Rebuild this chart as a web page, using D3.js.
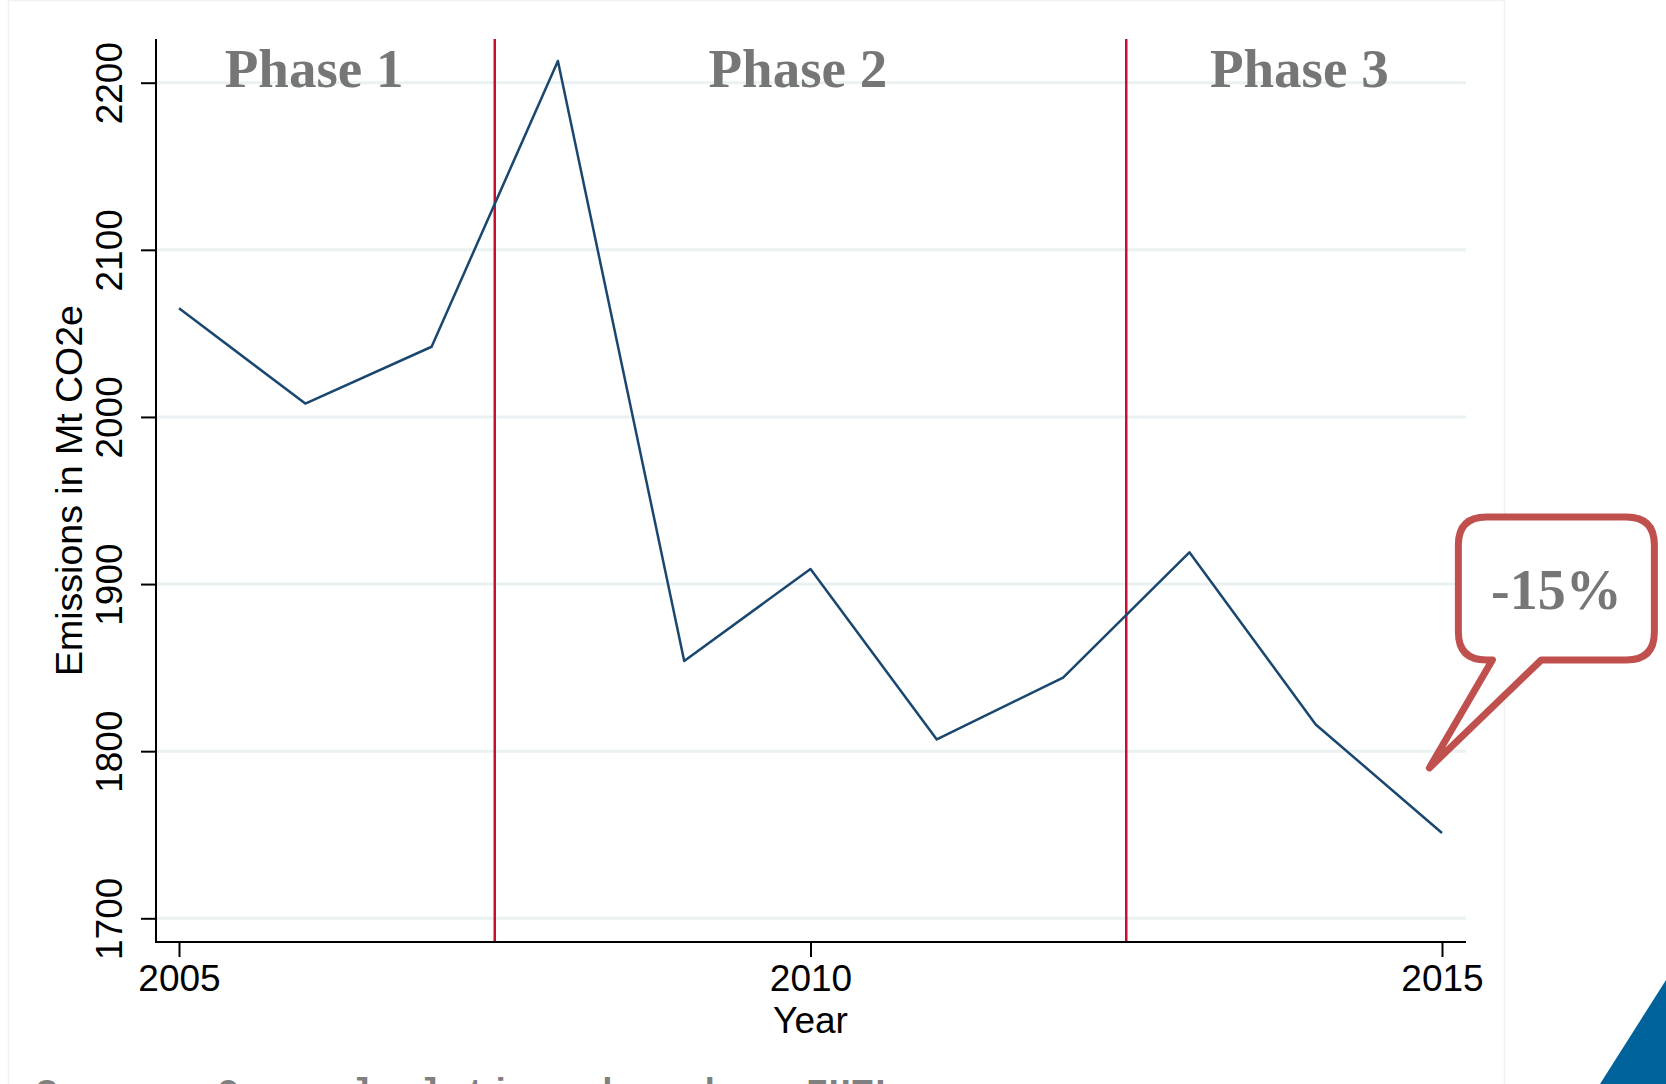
<!DOCTYPE html>
<html>
<head>
<meta charset="utf-8">
<script src="https://cdn.jsdelivr.net/npm/d3@7"></script>
<style>
  body { margin: 0; background: #fff; }
  svg { display: block; }
  .tick text { font-family: "Liberation Sans", Arial, sans-serif; fill: #000; }
</style>
</head>
<body>
<div id="chart"></div>
<script>
const years = [2005, 2006, 2007, 2008, 2009, 2010, 2011, 2012, 2013, 2014, 2015];
const emissions = [2065, 2008, 2042, 2213, 1854, 1909, 1807, 1844, 1919, 1816, 1751];
const yTicks = [1700, 1800, 1900, 2000, 2100, 2200];
const xTicks = [2005, 2010, 2015];
const phaseBreaks = [2007.5, 2012.5];
const phaseLabels = ['Phase 1', 'Phase 2', 'Phase 3'];
const phaseLabelYears = [2006.07, 2009.9, 2013.87];
const calloutText = '-15%';
const calloutTip = { year: 2014.9, value: 1790 };
const sourceText = 'Source: Own calculations based on EUTL';

const width = 1666, height = 1084;
const plot = { left: 156, right: 1466, top: 39, bottom: 942 };

const svg = d3.select('#chart').append('svg')
    .attr('width', width)
    .attr('height', height);

// slide background pieces
svg.append('rect')
    .attr('x', 8.5).attr('y', 0.5)
    .attr('width', 1496).attr('height', 1200)
    .attr('fill', 'none')
    .attr('stroke', '#eef2f2')
    .attr('stroke-width', 1.5);

svg.append('path')
    .attr('d', `M${width},980 L${width},${height} L1600,${height} Z`)
    .attr('fill', '#00629b');

const x = d3.scaleLinear().domain([2005, 2015]).range([179, 1442]);
const y = d3.scaleLinear().domain([1700, 2200]).range([918.3, 82.7]);

// grid
svg.append('g')
    .selectAll('line')
    .data(yTicks)
    .enter().append('line')
    .attr('x1', plot.left + 1).attr('x2', plot.right)
    .attr('y1', d => y(d)).attr('y2', d => y(d))
    .attr('stroke', '#eaf1f2')
    .attr('stroke-width', 3);

// phase separators
svg.append('g')
    .selectAll('line')
    .data(phaseBreaks)
    .enter().append('line')
    .attr('x1', d => x(d)).attr('x2', d => x(d))
    .attr('y1', plot.top).attr('y2', plot.bottom)
    .attr('stroke', '#c8102e')
    .attr('stroke-width', 2.5);

// phase labels
svg.append('g')
    .selectAll('text')
    .data(phaseLabels)
    .enter().append('text')
    .attr('x', (d, i) => x(phaseLabelYears[i]))
    .attr('y', 86.5)
    .attr('text-anchor', 'middle')
    .attr('font-family', '"Liberation Serif", "Times New Roman", serif')
    .attr('font-weight', 'bold')
    .attr('font-size', 55)
    .attr('fill', '#767676')
    .text(d => d);

// emissions line
const line = d3.line()
    .x((d, i) => x(years[i]))
    .y(d => y(d));

svg.append('path')
    .datum(emissions)
    .attr('d', line)
    .attr('fill', 'none')
    .attr('stroke', '#1a476f')
    .attr('stroke-width', 2.5)
    .attr('stroke-linejoin', 'round');

// axes
const xAxis = svg.append('g')
    .attr('transform', `translate(0,${plot.bottom})`)
    .call(d3.axisBottom(x).tickValues(xTicks).tickFormat(d3.format('d'))
        .tickSize(15).tickSizeOuter(0).tickPadding(8));
xAxis.select('.domain').remove();
xAxis.selectAll('.tick line').attr('stroke', '#000').attr('stroke-width', 2);
xAxis.selectAll('.tick text').attr('font-size', 37);

const yAxis = svg.append('g')
    .attr('transform', `translate(${plot.left},0)`)
    .call(d3.axisLeft(y).tickValues(yTicks).tickFormat(d3.format('d'))
        .tickSize(15).tickSizeOuter(0));
yAxis.select('.domain').remove();
yAxis.selectAll('.tick line').attr('stroke', '#000').attr('stroke-width', 2);
yAxis.selectAll('.tick text')
    .attr('font-size', 37)
    .attr('x', null).attr('dy', null)
    .attr('text-anchor', 'middle')
    .attr('transform', 'translate(-34,0) rotate(-90)');

svg.append('line')
    .attr('x1', plot.left).attr('x2', plot.left)
    .attr('y1', plot.top).attr('y2', plot.bottom + 1)
    .attr('stroke', '#000').attr('stroke-width', 2);
svg.append('line')
    .attr('x1', plot.left - 1).attr('x2', plot.right)
    .attr('y1', plot.bottom).attr('y2', plot.bottom)
    .attr('stroke', '#000').attr('stroke-width', 2);

// axis titles
svg.append('text')
    .attr('x', (x(2005) + x(2015)) / 2)
    .attr('y', 1033)
    .attr('text-anchor', 'middle')
    .attr('font-family', '"Liberation Sans", Arial, sans-serif')
    .attr('font-size', 37)
    .text('Year');

svg.append('text')
    .attr('transform', `translate(82,${(plot.top + plot.bottom) / 2}) rotate(-90)`)
    .attr('text-anchor', 'middle')
    .attr('font-family', '"Liberation Sans", Arial, sans-serif')
    .attr('font-size', 37.5)
    .text('Emissions in Mt CO2e');

// callout
const tipX = x(calloutTip.year), tipY = y(calloutTip.value);
const box = { left: tipX + 29, right: tipX + 225, top: tipY - 251, bottom: tipY - 108 };
const r = 28;
const tailL = tipX + 63, tailR = tipX + 112;
const calloutPath = [
    `M${box.left + r},${box.top}`,
    `H${box.right - r}`,
    `Q${box.right},${box.top} ${box.right},${box.top + r}`,
    `V${box.bottom - r}`,
    `Q${box.right},${box.bottom} ${box.right - r},${box.bottom}`,
    `H${tailR}`,
    `L${tipX},${tipY}`,
    `L${tailL},${box.bottom}`,
    `H${box.left + r}`,
    `Q${box.left},${box.bottom} ${box.left},${box.bottom - r}`,
    `V${box.top + r}`,
    `Q${box.left},${box.top} ${box.left + r},${box.top}`,
    'Z'
].join(' ');

svg.append('path')
    .attr('d', calloutPath)
    .attr('fill', '#fff')
    .attr('stroke', '#c0504d')
    .attr('stroke-width', 7)
    .attr('stroke-linejoin', 'round');

svg.append('text')
    .attr('x', (box.left + box.right) / 2)
    .attr('y', box.top + 92)
    .attr('text-anchor', 'middle')
    .attr('font-family', '"Liberation Serif", "Times New Roman", serif')
    .attr('font-weight', 'bold')
    .attr('font-size', 56)
    .attr('fill', '#767676')
    .text(calloutText);

// source note (cut off by the page edge, as on the slide)
svg.append('text')
    .attr('x', 36)
    .attr('y', 1104)
    .attr('font-family', '"Liberation Mono", "Courier New", monospace')
    .attr('font-weight', 'bold')
    .attr('font-size', 36.5)
    .attr('textLength', 860)
    .attr('lengthAdjust', 'spacing')
    .attr('fill', '#808080')
    .text(sourceText);
</script>
</body>
</html>
